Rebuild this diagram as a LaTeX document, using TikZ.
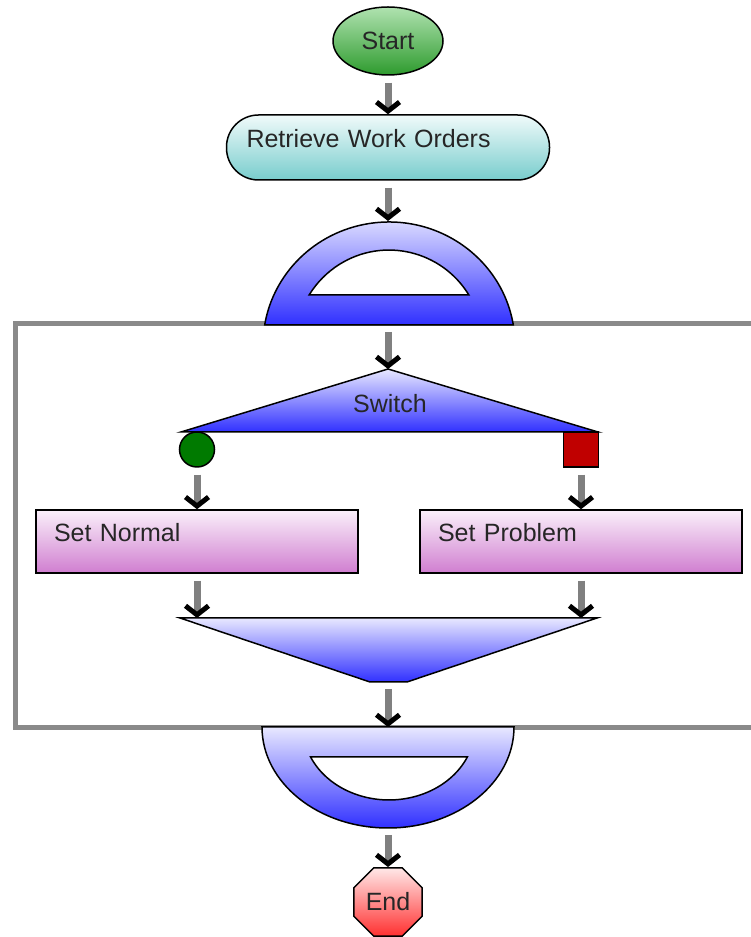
\documentclass[tikz,border=0pt]{standalone}
\usepackage{fontspec}
\setmainfont{Liberation Sans}
\usepackage{xcolor}
\usetikzlibrary{arrows.meta,shapes.geometric}
\definecolor{flowgray}{HTML}{808080}
\definecolor{framegray}{HTML}{8A8A8A}
\definecolor{bluetop}{HTML}{E8E8FF}
\definecolor{bluebot}{HTML}{3030FF}
\definecolor{tealtop}{HTML}{F0FAFA}
\definecolor{tealbot}{HTML}{78CDCD}
\definecolor{pinktop}{HTML}{FAF0FA}
\definecolor{pinkbot}{HTML}{D07ED0}
\definecolor{greentop}{HTML}{B0E2B0}
\definecolor{greenbot}{HTML}{2E9B2E}
\definecolor{redtop}{HTML}{FFE8E8}
\definecolor{redbot}{HTML}{FF3030}

\begin{document}
\begin{tikzpicture}[x=1pt,y=1pt,
  txt/.style={font=\fontsize{25}{30}\selectfont,text=black!85},
  outline/.style={draw=black,line width=1.5pt},
  flow/.style={draw=flowgray,line width=7pt,shorten <=7pt,-{Straight Barb[black,length=9pt,width=23pt,line width=5pt]}},
  blueshade/.style={outline,top color=bluetop,bottom color=bluebot},
  hole/.style={outline,fill=white},
  procbox/.style={txt,outline,minimum height=63pt,text width=286pt,inner xsep=18pt,align=left,text height=18pt,text depth=18pt,top color=pinktop,bottom color=pinkbot}]
  \useasboundingbox (0,0) rectangle (751,937);
  \draw[framegray,line width=5pt] (751,613) -- (15.5,613) -- (15.5,209) -- (751,209);

  \node[txt,ellipse,outline,minimum width=110pt,minimum height=68pt,inner sep=0pt,top color=greentop,bottom color=greenbot] (start) at (388,896) {Start};
  \node[txt,rectangle,rounded corners=32pt,outline,minimum height=65pt,text width=283pt,inner xsep=20pt,align=left,text height=18pt,text depth=18pt,top color=tealtop,bottom color=tealbot] (retrieve) at (388,789.5) {Retrieve Work Orders};

  % loop begin
  \shade[blueshade] (513.3,612) arc[start angle=9.36,end angle=170.64,x radius=126,y radius=123] -- cycle;
  \filldraw[hole] (468.9,642) arc[start angle=31.8,end angle=148.2,x radius=94,y radius=95] -- cycle;
  \coordinate (lb-top) at (388,716);
  \coordinate (lb-base) at (388,612);

  % switch
  \shade[blueshade] (181,505) -- (388,568) -- (598,505) -- cycle;
  \node[txt,anchor=base] (switch) at (390,524) {Switch};
  \coordinate (sw-top) at (388,568);
  \node[circle,outline,fill={rgb,255:red,0;green,122;blue,0},minimum size=35pt,inner sep=0pt] (yes) at (197,487.5) {};
  \node[rectangle,outline,fill={rgb,255:red,192;green,0;blue,0},minimum size=35pt,inner sep=0pt] (no) at (581,487.5) {};

  \node[procbox] (normal) at (197,395.5) {Set Normal};
  \node[procbox] (problem) at (581,395.5) {Set Problem};

  % merge
  \shade[blueshade] (180,319) -- (597,319) -- (407,255) -- (370,255) -- cycle;
  \coordinate (mg-left) at (197,319);
  \coordinate (mg-right) at (581,319);
  \coordinate (mg-bot) at (388,255);

  % loop end
  \shade[blueshade] (262,210) arc[start angle=180,end angle=360,x radius=126,y radius=101] -- cycle;
  \filldraw[hole] (310.6,180) arc[start angle=204.3,end angle=335.7,x radius=86,y radius=73] -- cycle;
  \coordinate (le-top) at (388,210);
  \coordinate (le-bot) at (388,109);

  \node[txt,regular polygon,regular polygon sides=8,outline,minimum size=74pt,inner sep=0pt,top color=redtop,bottom color=redbot] (stop) at (388,35) {End};

  \foreach \a/\b in {start/retrieve,retrieve/lb-top,lb-base/sw-top,yes/normal,no/problem,normal/mg-left,problem/mg-right,mg-bot/le-top,le-bot/stop}
    \draw[flow] (\a) -- (\b);
\end{tikzpicture}
\end{document}
